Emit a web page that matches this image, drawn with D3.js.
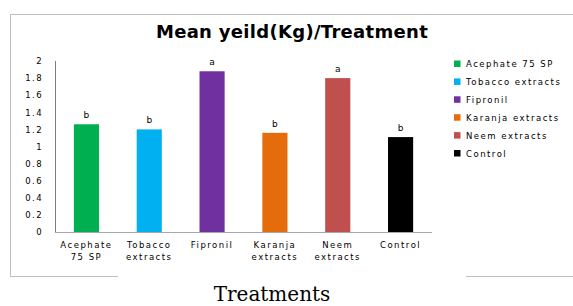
<!DOCTYPE html>
<html>
<head>
<meta charset="utf-8">
<script src="https://cdn.jsdelivr.net/npm/d3@7"></script>
<style>
  body { margin: 0; background: #fff; }
  svg { display: block; }
</style>
</head>
<body>
<div id="chart"></div>
<script>
// data
const treatments = ['Acephate 75 SP', 'Tobacco extracts', 'Fipronil', 'Karanja extracts', 'Neem extracts', 'Control']
const axisLabels = [['Acephate', '75 SP'], ['Tobacco', 'extracts'], ['Fipronil'], ['Karanja', 'extracts'], ['Neem', 'extracts'], ['Control']]
const meanYield = [1.26, 1.20, 1.88, 1.16, 1.80, 1.11]
const groups = ['b', 'b', 'a', 'b', 'a', 'b']
const colors = ['#00b050', '#00b0f0', '#7030a0', '#e46c0a', '#c0504d', '#000000']
const yTicks = [0, 0.2, 0.4, 0.6, 0.8, 1, 1.2, 1.4, 1.6, 1.8, 2]

const width = 573
const height = 306
const margin = ({top: 61, left: 55, right: 432, bottom: 232})
const font = 'DejaVu Sans, Verdana, sans-serif'

const svg = d3.select('#chart').append('svg')
  .attr('width', width).attr('height', height)

// chart frame (bottom edge broken where the axis title sits)
const frame = svg.append('g').attr('stroke', '#bfbfbf').attr('fill', 'none')
frame.append('path').attr('d', 'M10.5,276 L10.5,14.5 L573,14.5')
frame.append('line').attr('x1', 10).attr('x2', 118).attr('y1', 276.5).attr('y2', 276.5)
frame.append('line').attr('x1', 466).attr('x2', 573).attr('y1', 276.5).attr('y2', 276.5)

var x = d3.scaleBand()
  .domain(treatments)
  .range([margin.left, margin.right])
  .paddingInner(0.6)
  .paddingOuter(0.3)

var y = d3.scaleLinear()
  .domain([0, 2])
  .range([margin.bottom, margin.top])

// title
svg.append('text')
  .attr('x', 292).attr('y', 38)
  .attr('text-anchor', 'middle')
  .attr('font-family', font)
  .attr('font-weight', 'bold')
  .attr('font-size', 18)
  .attr('letter-spacing', 0.3)
  .attr('fill', '#000')
  .text('Mean yeild(Kg)/Treatment')

// y axis
const yAxis = svg.append('g')
  .attr('transform', `translate(${margin.left}, 0)`)
  .call(d3.axisLeft(y).tickValues(yTicks).tickSize(0).tickPadding(12).tickFormat(d3.format('')))
yAxis.select('.domain').attr('stroke', '#7f7f7f').attr('d', `M0.5,${margin.top}V${margin.bottom}`)
yAxis.selectAll('text')
  .attr('font-family', font).attr('font-size', 8.5).attr('letter-spacing', 1.4).attr('fill', '#000')

// bars
svg.selectAll('.bar')
  .data(meanYield)
  .enter().append('rect')
  .attr('class', 'bar')
  .attr('x', (d, i) => x(treatments[i]))
  .attr('y', d => y(d))
  .attr('width', x.bandwidth())
  .attr('height', d => y(0) - y(d))
  .attr('fill', (d, i) => colors[i])

// significance letters
svg.selectAll('.grp')
  .data(meanYield)
  .enter().append('text')
  .attr('class', 'grp')
  .attr('x', (d, i) => x(treatments[i]) + x.bandwidth() / 2)
  .attr('y', d => y(d) - 6)
  .attr('text-anchor', 'middle')
  .attr('font-family', font).attr('font-size', 9)
  .attr('fill', '#000')
  .text((d, i) => groups[i])

// x axis
const xAxis = svg.append('g')
  .attr('transform', `translate(0, ${margin.bottom})`)
  .call(d3.axisBottom(x).tickSize(0).tickFormat(''))
xAxis.select('.domain').attr('stroke', '#a6a6a6').attr('d', `M${margin.left},0.5H${margin.right}`)

xAxis.selectAll('.tick').each(function(d, i) {
  const t = d3.select(this).append('text')
    .attr('y', 16)
    .attr('text-anchor', 'middle')
    .attr('font-family', font).attr('font-size', 8.5)
    .attr('letter-spacing', 1.5)
    .attr('fill', '#000')
  axisLabels[i].forEach((line, j) => {
    t.append('tspan').attr('x', 0).attr('dy', j === 0 ? 0 : 11.5).text(line)
  })
})

// legend
const legend = svg.append('g')
  .selectAll('g')
  .data(treatments)
  .enter().append('g')
  .attr('transform', (d, i) => `translate(454, ${64 + i * 17.9})`)

legend.append('rect')
  .attr('x', 0).attr('y', -3.5)
  .attr('width', 6.5).attr('height', 6.5)
  .attr('fill', (d, i) => colors[i])

legend.append('text')
  .attr('x', 12).attr('y', 3)
  .attr('font-family', font).attr('font-size', 8.5)
  .attr('letter-spacing', 1.5)
  .attr('fill', '#000')
  .text(d => d)

// axis title below the frame
svg.append('text')
  .attr('x', 272).attr('y', 301)
  .attr('text-anchor', 'middle')
  .attr('font-family', 'DejaVu Serif, Georgia, serif')
  .attr('font-size', 20)
  .attr('fill', '#000')
  .text('Treatments')
</script>
</body>
</html>
